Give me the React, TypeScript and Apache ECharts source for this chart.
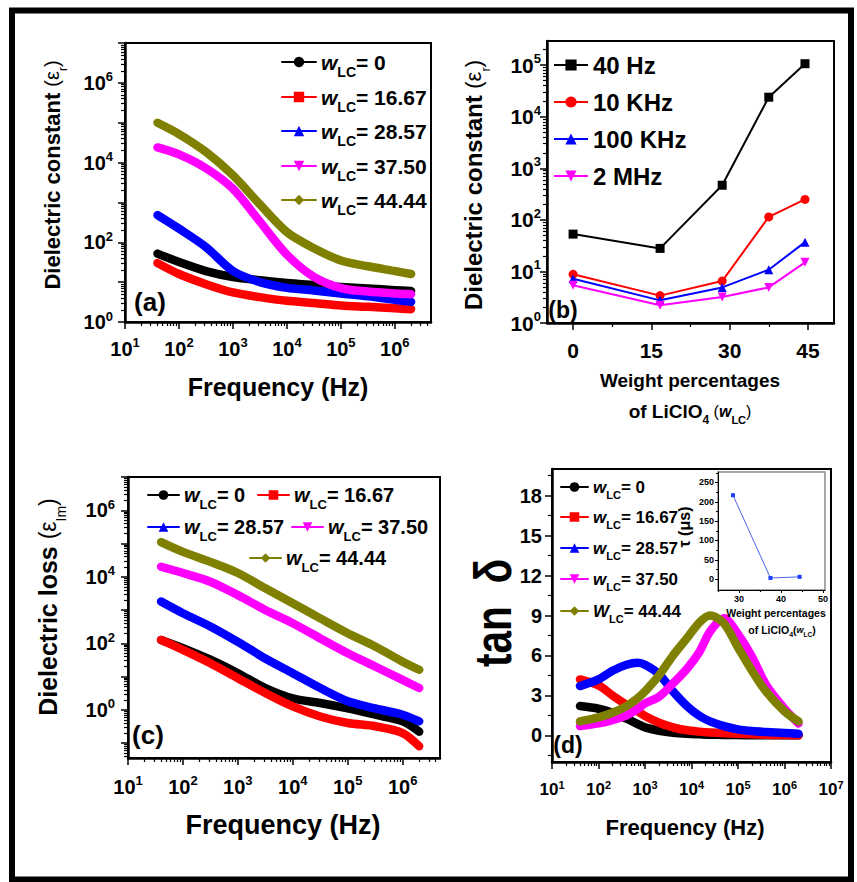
import React, { useEffect, useRef } from 'react';
import * as echarts from 'echarts';

const FONT = '"Liberation Sans", Arial, Helvetica, sans-serif';

// ---------------- data ----------------
// frequencies (Hz) of the sampled points for panels (a) and (c)
const FREQ_AC = [40, 100, 316, 1000, 3160, 1e4, 3.16e4, 1e5, 3.16e5, 1e6, 2e6];
const WLC_LABELS = ['0', '16.67', '28.57', '37.50', '44.44'];

// (a) dielectric constant
const A_W0 = [52, 32, 19, 13.5, 11.2, 9.5, 8.5, 7.6, 6.9, 6.3, 6.0];
const A_W16 = [30, 16, 8.9, 5.5, 4.2, 3.4, 3.0, 2.6, 2.4, 2.2, 2.1];
const A_W28 = [480, 220, 76, 19, 10, 7.2, 6.2, 5.2, 4.4, 3.6, 3.2];
const A_W37 = [2.4e4, 1.6e4, 7200, 2200, 330, 49, 13.5, 7.1, 5.8, 5.2, 5.0];
const A_W44 = [1.0e5, 5.2e4, 1.85e4, 4800, 890, 180, 71, 35, 25, 19, 16];

// (b) dielectric constant vs weight percentage
const WLC = [0, 16.67, 28.57, 37.5, 44.44];
const B_LABELS = ['40 Hz', '10 KHz', '100 KHz', '2 MHz'];
const B_40HZ = [53, 28, 470, 2.4e4, 1.07e5];
const B_10KHZ = [8.8, 3.4, 6.5, 114, 250];
const B_100KHZ = [7.2, 2.75, 4.9, 10.8, 37];
const B_2MHZ = [5.4, 2.2, 3.2, 4.9, 15];

// (c) dielectric loss
const C_W0 = [126, 71, 32, 12.6, 4.5, 2.2, 1.6, 1.1, 0.71, 0.45, 0.22];
const C_W16 = [126, 63, 25, 8.9, 3.2, 1.26, 0.63, 0.4, 0.32, 0.2, 0.08];
const C_W28 = [1800, 800, 320, 110, 35, 12.6, 4.5, 1.8, 1.1, 0.71, 0.45];
const C_W37 = [2.0e4, 1.3e4, 7100, 2800, 1000, 400, 140, 50, 20, 7.9, 4.5];
const C_W44 = [1.1e5, 5.6e4, 2.8e4, 1.3e4, 4500, 1600, 560, 200, 80, 28, 16];

// (d) tan delta
const FREQ_D = [40, 100, 200, 400, 700, 1000, 2000, 4000, 8000, 1.5e4, 2.5e4, 5e4, 1e5, 2e5, 4e5, 1e6, 2e6];
const D_W0 = [2.2, 2.0, 1.7, 1.25, 0.85, 0.6, 0.35, 0.2, 0.12, 0.08, 0.05, 0.03, 0.02, 0.01, 0.01, 0, 0];
const D_W16 = [4.2, 3.75, 3.0, 2.3, 1.8, 1.45, 0.95, 0.6, 0.38, 0.28, 0.22, 0.16, 0.12, 0.08, 0.05, 0.02, 0];
const D_W28 = [3.7, 4.2, 4.85, 5.3, 5.45, 5.3, 4.6, 3.3, 2.2, 1.45, 1.05, 0.7, 0.45, 0.32, 0.25, 0.18, 0.12];
const D_W37 = [0.7, 0.9, 1.15, 1.5, 2.0, 2.4, 2.9, 3.9, 5.0, 6.3, 7.8, 8.8, 7.6, 5.9, 3.8, 2.0, 0.9];
const D_W44 = [1.05, 1.35, 1.7, 2.2, 2.8, 3.3, 4.5, 6.0, 7.3, 8.5, 9.0, 8.4, 6.6, 4.85, 3.3, 1.8, 1.05];

// inset: relaxation time
const INSET_WLC = [28.57, 37.5, 44.44];
const INSET_TAU = [217, 3, 6];

const COLORS = ['#000000', '#ff0000', '#0000ff', '#ff00ff', '#808000'];
const SYMBOLS = ['circle', 'rect', 'triangle', 'triangle', 'diamond'];
const ROTATE = [0, 0, 0, 180, 0];

const lg = (v: number) => Math.log10(v);
function steps(a: number, b: number, s: number) {
  const r: number[] = [];
  for (let v = a; v <= b + 1e-9; v += s) r.push(Math.round(v * 1e6) / 1e6);
  return r;
}
function logMinor(lo: number, hi: number) {
  const r: number[] = [];
  for (let d = Math.floor(lo) - 1; d <= Math.ceil(hi); d++)
    for (let k = 2; k <= 9; k++) {
      const v = d + Math.log10(k);
      if (v > lo + 1e-6 && v < hi - 1e-6) r.push(v);
    }
  return r;
}

function tickRich(F: number) {
  const S = Math.round(F * 0.64);
  return {
    b: { fontSize: F, fontWeight: 'bold', fontFamily: FONT, color: '#000', lineHeight: Math.round(F * 1.25) },
    s: { fontSize: S, fontWeight: 'bold', fontFamily: FONT, color: '#000', verticalAlign: 'top', lineHeight: S },
  };
}
function subRich(F: number, extra: any = {}) {
  const S = Math.round(F * 0.65);
  const L = Math.round(0.9 * F + S);
  const st = (o: any) => ({ fontFamily: FONT, color: '#000', fill: '#000', ...o });
  return {
    L,
    rich: {
      w: st({ fontSize: F, fontWeight: 'bold', fontStyle: 'italic', lineHeight: L }),
      s: st({ fontSize: S, fontWeight: 'bold', verticalAlign: 'bottom', lineHeight: S }),
      t: st({ fontSize: F, fontWeight: 'bold', lineHeight: L }),
      ...extra,
    },
  };
}

function buildOption() {
  const xAxis: any[] = [];
  const yAxis: any[] = [];
  const series: any[] = [];
  const legend: any[] = [];
  const graphic: any[] = [];

  const logFmt = (v: number) => `{b|10}{s|${Math.round(v)}}`;
  const numFmt = (v: number) => `{b|${Math.round(v)}}`;

  function axis(dim: 'x' | 'y', grid: number, c: any) {
    const arr = dim === 'x' ? xAxis : yAxis;
    const base = {
      type: 'value', gridIndex: grid, min: c.min, max: c.max,
      position: dim === 'x' ? 'bottom' : 'left',
      splitLine: { show: false }, splitArea: { show: false },
    };
    arr.push({
      ...base,
      axisLine: { show: true, onZero: false, lineStyle: { color: '#000', width: c.lw ?? 2.5 } },
      axisTick: { show: true, inside: false, customValues: c.major, length: c.tl ?? 7, lineStyle: { color: '#000', width: c.tw ?? 1.5 } },
      axisLabel: { show: true, customValues: c.labels, formatter: c.fmt, margin: c.margin, rich: tickRich(c.F), hideOverlap: false },
    });
    const idx = arr.length - 1;
    arr.push({
      ...base,
      axisLine: { show: false, onZero: false },
      axisTick: { show: true, inside: false, customValues: c.minor, length: c.ml ?? 4, lineStyle: { color: '#000', width: 1.2 } },
      axisLabel: { show: false },
    });
    return idx;
  }

  const grids = [
    { left: 125, top: 43, width: 306, height: 279 },
    { left: 547, top: 41, width: 287, height: 282 },
    { left: 128, top: 477, width: 312, height: 281 },
    { left: 552, top: 469, width: 279, height: 293 },
    { left: 718, top: 472, width: 107, height: 118 },
  ].map((g, i) => ({
    ...g, show: true, borderColor: i === 4 ? '#8a8a8a' : '#000', borderWidth: i === 4 ? 1.5 : 2,
    backgroundColor: 'transparent', containLabel: false, outerBoundsMode: 'none',
  }));

  // ---- axes ----
  const ax = axis('x', 0, { min: 1, max: 6.67, major: steps(1, 6, 1), labels: steps(1, 6, 1), minor: logMinor(1, 6.67), fmt: logFmt, F: 20, margin: 14 });
  const ay = axis('y', 0, { min: 0, max: 7, major: steps(0, 7, 1), labels: [0, 2, 4, 6], minor: logMinor(0, 7), fmt: logFmt, F: 20, margin: 12 });
  const bx = axis('x', 1, { min: -5, max: 50, major: [0, 15, 30, 45], labels: [0, 15, 30, 45], minor: [7.5, 22.5, 37.5], fmt: numFmt, F: 21, margin: 14 });
  const by = axis('y', 1, { min: 0, max: 5.47, major: steps(0, 5, 1), labels: steps(0, 5, 1), minor: logMinor(0, 5.47), fmt: logFmt, F: 21, margin: 6 });
  const cx = axis('x', 2, { min: 1, max: 6.68, major: steps(1, 6, 1), labels: steps(1, 6, 1), minor: logMinor(1, 6.68), fmt: logFmt, F: 20, margin: 16 });
  const cy = axis('y', 2, { min: -1.45, max: 7, major: steps(-1, 7, 1), labels: [0, 2, 4, 6], minor: logMinor(-1.45, 7), fmt: logFmt, F: 20, margin: 13 });
  const dx = axis('x', 3, { min: 1, max: 7, major: steps(1, 7, 1), labels: steps(1, 7, 1), minor: logMinor(1, 7), fmt: logFmt, F: 17, margin: 17 });
  const dy = axis('y', 3, { min: -2, max: 20, major: steps(0, 18, 3), labels: steps(0, 18, 3), minor: steps(-1.5, 19.5, 3), fmt: numFmt, F: 20, margin: 10 });
  const ix = axis('x', 4, { min: 25, max: 50.5, major: [30, 40, 50], labels: [30, 40, 50], minor: [25, 35, 45], fmt: numFmt, F: 9, margin: 3, lw: 1, tw: 1, tl: 3, ml: 2 });
  const iy = axis('y', 4, { min: -28, max: 277, major: steps(0, 250, 50), labels: steps(0, 250, 50), minor: steps(25, 275, 50), fmt: numFmt, F: 9, margin: 4, lw: 1, tw: 1, tl: 3, ml: 2 });

  // ---- series ----
  const curve = (name: string, xi: number, yi: number, xs: number[], ys: number[], k: number, w: number) =>
    series.push({
      name, type: 'line', xAxisIndex: xi, yAxisIndex: yi,
      data: xs.map((x, i) => [x, ys[i]]),
      showSymbol: false, symbol: SYMBOLS[k], symbolRotate: ROTATE[k], symbolSize: 8,
      smooth: 0.3,
      lineStyle: { color: COLORS[k], width: w, cap: 'round', join: 'round' },
      itemStyle: { color: COLORS[k] }, z: 2 + k, silent: true,
    });

  [A_W0, A_W16, A_W28, A_W37, A_W44].forEach((ys, k) =>
    curve('a' + k, ax, ay, FREQ_AC.map(lg), ys.map(lg), k, 8.5));
  [C_W0, C_W16, C_W28, C_W37, C_W44].forEach((ys, k) =>
    curve('c' + k, cx, cy, FREQ_AC.map(lg), ys.map(lg), k, 8.5));
  [D_W0, D_W16, D_W28, D_W37, D_W44].forEach((ys, k) =>
    curve('d' + k, dx, dy, FREQ_D.map(lg), ys, k, 8.5));

  [B_40HZ, B_10KHZ, B_100KHZ, B_2MHZ].forEach((ys, k) => {
    const sym = ['rect', 'circle', 'triangle', 'triangle'][k];
    series.push({
      name: 'b' + k, type: 'line', xAxisIndex: bx, yAxisIndex: by,
      data: WLC.map((x, i) => [x, lg(ys[i])]),
      showSymbol: true, symbol: sym, symbolRotate: k === 3 ? 180 : 0, symbolSize: 9,
      lineStyle: { color: COLORS[k], width: 2 }, itemStyle: { color: COLORS[k] }, z: 2 + k, silent: true,
    });
  });

  series.push({
    name: 'inset', type: 'line', xAxisIndex: ix, yAxisIndex: iy,
    data: INSET_WLC.map((x, i) => [x, INSET_TAU[i]]),
    showSymbol: true, symbol: 'rect', symbolSize: 4,
    lineStyle: { color: '#4a63e6', width: 1 }, itemStyle: { color: '#1a3cff' }, silent: true,
  });

  // ---- legends (one per entry for exact placement) ----
  const legendItem = (name: string, label: string, left: number, cyy: number, o: any) =>
    legend.push({
      show: true, data: [name], left, top: cyy - o.L / 2, orient: 'horizontal', padding: 0, itemGap: 0,
      itemWidth: o.iw, itemHeight: o.ih, selectedMode: false,
      formatter: () => label,
      textStyle: { color: '#000', fontFamily: FONT, fontWeight: 'bold', fontSize: o.F, rich: o.rich, lineHeight: o.L },
      lineStyle: { width: 2 },
    });
  const wl = (v: string, upper = false) => `{w|${upper ? 'W' : 'w'}}{s|LC}{t|= ${v}}`;

  const ra = subRich(21);
  [62, 97, 131, 166, 200].forEach((y, k) =>
    legendItem('a' + k, wl(WLC_LABELS[k]), 281, y, { L: ra.L, rich: ra.rich, F: 21, iw: 34, ih: 13 }));

  [65, 102, 139, 176].forEach((y, k) =>
    legendItem('b' + k, B_LABELS[k], 553, y, { L: 28, F: 24, iw: 34, ih: 14 }));

  const rc = subRich(20);
  const cPos = [[147, 495], [257, 495], [147, 527], [291, 527], [249, 558]];
  cPos.forEach(([x, y], k) =>
    legendItem('c' + k, wl(WLC_LABELS[k]), x, y, { L: rc.L, rich: rc.rich, F: 20, iw: 31, ih: 12 }));

  const rd = subRich(17);
  [487, 517, 548, 579, 611].forEach((y, k) =>
    legendItem('d' + k, wl(WLC_LABELS[k], k === 4), 560, y, { L: rd.L, rich: rd.rich, F: 17, iw: 27, ih: 12 }));

  // ---- titles and labels ----
  const txt = (x: number, y: number, text: string, F: number, o: any = {}) =>
    graphic.push({
      type: 'text', x, y, rotation: o.rot || 0, scaleX: o.sx || 1, z: 20, silent: true,
      style: {
        text, fontSize: F, fontWeight: o.weight || 'bold', fontFamily: FONT, fill: '#000',
        align: 'center', verticalAlign: 'middle', rich: o.rich,
      },
    });
  const R90 = Math.PI / 2;

  const yTitleRich = (F: number) => {
    const r = subRich(F, {
      p: { fontSize: Math.round(F * 0.9), fontWeight: 'normal', fontFamily: FONT, fill: '#000', color: '#000', lineHeight: Math.round(0.9 * F + Math.round(F * 0.65)) },
    });
    r.rich.s = { ...r.rich.s, fontSize: Math.round(F * 0.55), fontWeight: 'normal' };
    return r.rich;
  };

  txt(52, 175, '{t|Dielectric constant }{p|(ε}{s|r}{p|)}', 22, { rot: R90, rich: yTitleRich(22) });
  txt(278, 387, 'Frequency (Hz)', 25);
  txt(150, 302, '(a)', 26);

  txt(473, 185, '{t|Dielectric constant }{p|(ε}{s|r}{p|)}', 24, { rot: R90, rich: yTitleRich(24) });
  txt(690, 380, 'Weight percentages', 19);
  const rb = subRich(19, {
    n: { fontSize: 12, fontWeight: 'bold', fontFamily: FONT, fill: '#000', verticalAlign: 'bottom', lineHeight: 12 },
    p: { fontSize: 16, fontWeight: 'normal', fontFamily: FONT, fill: '#000', lineHeight: 29 },
    w: { fontSize: 16, fontWeight: 'bold', fontStyle: 'italic', fontFamily: FONT, fill: '#000', lineHeight: 29 },
  });
  rb.rich.s = { ...rb.rich.s, fontSize: 11 };
  txt(690, 411, '{t|of LiClO}{n|4}{p| (}{w|w}{s|LC}{p|)}', 19, { rich: rb.rich });
  txt(563, 310, '(b)', 23);

  txt(48, 607, '{t|Dielectric loss }{p|(ε}{s|Im}{p|)}', 25, { rot: R90, rich: yTitleRich(25) });
  txt(283, 825, 'Frequency (Hz)', 27);
  txt(148, 735, '(c)', 26);

  txt(493, 613, 'tan  δ', 52, { rot: R90, sx: 0.78 });
  txt(685, 827, 'Frequency (Hz)', 22);
  txt(568, 745, '(d)', 23);

  // inset titles
  txt(684, 527, 'τ (μs)', 16, { rot: R90 });
  txt(776, 613, 'Weight percentages', 10.5);
  const ri = subRich(10.5, {
    n: { fontSize: 7, fontWeight: 'bold', fontFamily: FONT, fill: '#000', verticalAlign: 'bottom', lineHeight: 7 },
    p: { fontSize: 10.5, fontWeight: 'bold', fontFamily: FONT, fill: '#000', lineHeight: 16 },
    w: { fontSize: 9, fontWeight: 'bold', fontStyle: 'italic', fontFamily: FONT, fill: '#000', lineHeight: 16 },
  });
  ri.rich.s = { ...ri.rich.s, fontSize: 6.5 };
  txt(782, 630, '{t|of LiClO}{n|4}{p|(}{w|w}{s|LC}{p|)}', 10.5, { rich: ri.rich });

  // outer frame
  graphic.push({
    type: 'rect', z: 30, silent: true,
    shape: { x: 12, y: 10.5, width: 839, height: 869 },
    style: { fill: 'transparent', stroke: '#000', lineWidth: 6 },
  });

  return {
    animation: false,
    backgroundColor: '#ffffff',
    textStyle: { fontFamily: FONT },
    grid: grids,
    xAxis,
    yAxis,
    legend,
    series,
    graphic: { elements: graphic },
  };
}

export default function App() {
  const ref = useRef<HTMLDivElement>(null);
  useEffect(() => {
    const chart = echarts.init(ref.current!, null, { renderer: 'svg' });
    chart.setOption(buildOption() as any);
    return () => chart.dispose();
  }, []);
  return (
    <div
      ref={ref}
      style={{ position: 'fixed', left: 0, top: 0, width: 857, height: 882, background: '#fff' }}
    />
  );
}
